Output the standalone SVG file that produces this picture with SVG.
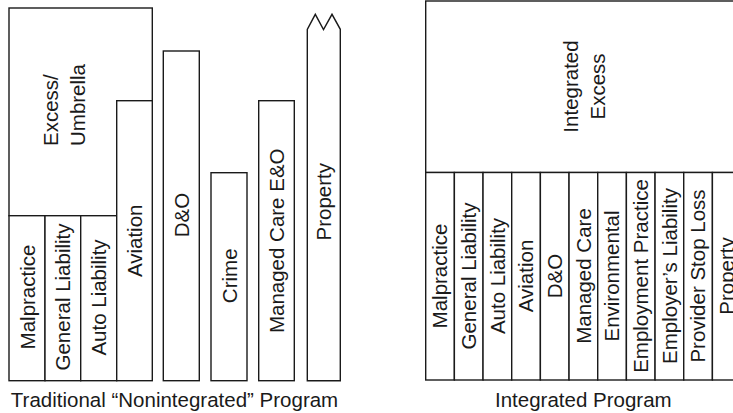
<svg xmlns="http://www.w3.org/2000/svg" width="733" height="413" viewBox="0 0 733 413">
<style>
.b{fill:#fff;stroke:#1a1a1a;stroke-width:1.4}
.t{font-family:"Liberation Sans",Arial,sans-serif;font-size:20.5px;fill:#1a1a1a}
.m{text-anchor:middle}
</style>
<rect width="733" height="413" fill="#fff"/>
<g id="traditional-program">
<g id="excess-umbrella"><rect class="b" x="9" y="8" width="143.3" height="207.7"/>
<text class="t" transform="translate(58.3,146) rotate(-90)">Excess/</text>
<text class="t" transform="translate(85,146) rotate(-90)">Umbrella</text></g>
<g id="malpractice"><rect class="b" x="9" y="215.7" width="36" height="165"/>
<text class="t m" transform="translate(34.5,297) rotate(-90)">Malpractice</text></g>
<g id="general-liability"><rect class="b" x="45" y="215.7" width="35.7" height="165"/>
<text class="t m" transform="translate(70.3,297) rotate(-90)">General Liability</text></g>
<g id="auto-liability"><rect class="b" x="80.7" y="215.7" width="36" height="165"/>
<text class="t m" transform="translate(106.2,297.5) rotate(-90)">Auto Liability</text></g>
<g id="aviation"><rect class="b" x="116.7" y="100.7" width="35.6" height="280"/>
<text class="t m" transform="translate(142,240.8) rotate(-90)">Aviation</text></g>
<g id="d-and-o"><rect class="b" x="163.3" y="51" width="36" height="329.7"/>
<text class="t m" transform="translate(188.8,215) rotate(-90)">D&amp;O</text></g>
<g id="crime"><rect class="b" x="211" y="172.7" width="36" height="208"/>
<text class="t m" transform="translate(236.5,275.8) rotate(-90)">Crime</text></g>
<g id="managed-care-eo"><rect class="b" x="258.7" y="100.7" width="35.6" height="280"/>
<text class="t m" transform="translate(284,240.8) rotate(-90)">Managed Care E&amp;O</text></g>
<g id="property"><path class="b" d="M307.3,380.7 V29.3 L315.3,14.3 L323.5,29.5 L332,14.3 L340.3,29.3 V380.7 Z"/>
<text class="t m" transform="translate(331.3,201.7) rotate(-90)">Property</text></g>
<text class="t m" x="174.5" y="406.5">Traditional “Nonintegrated” Program</text>
</g>
<g id="integrated-program">
<g id="integrated-excess"><rect class="b" x="425.7" y="1" width="315.4" height="171.5"/>
<text class="t m" transform="translate(578.3,86.5) rotate(-90)">Integrated</text>
<text class="t m" transform="translate(605,86.5) rotate(-90)">Excess</text></g>
<g id="i-malpractice"><rect class="b" x="425.7" y="172.5" width="28.67" height="207.5"/>
<text class="t m" transform="translate(447.3,276) rotate(-90)">Malpractice</text></g>
<g id="i-general-liability"><rect class="b" x="454.37" y="172.5" width="28.67" height="207.5"/>
<text class="t m" transform="translate(476,276) rotate(-90)">General Liability</text></g>
<g id="i-auto-liability"><rect class="b" x="483.04" y="172.5" width="28.67" height="207.5"/>
<text class="t m" transform="translate(504.7,276) rotate(-90)">Auto Liability</text></g>
<g id="i-aviation"><rect class="b" x="511.71" y="172.5" width="28.67" height="207.5"/>
<text class="t m" transform="translate(533.3,276) rotate(-90)">Aviation</text></g>
<g id="i-d-and-o"><rect class="b" x="540.38" y="172.5" width="28.67" height="207.5"/>
<text class="t m" transform="translate(562,276) rotate(-90)">D&amp;O</text></g>
<g id="i-managed-care"><rect class="b" x="569.05" y="172.5" width="28.67" height="207.5"/>
<text class="t m" transform="translate(590.7,276) rotate(-90)">Managed Care</text></g>
<g id="i-environmental"><rect class="b" x="597.72" y="172.5" width="28.67" height="207.5"/>
<text class="t m" transform="translate(619.4,276) rotate(-90)">Environmental</text></g>
<g id="i-employment-practice"><rect class="b" x="626.39" y="172.5" width="28.67" height="207.5"/>
<text class="t m" transform="translate(648,276) rotate(-90)">Employment Practice</text></g>
<g id="i-employers-liability"><rect class="b" x="655.06" y="172.5" width="28.67" height="207.5"/>
<text class="t m" transform="translate(676.7,276) rotate(-90)">Employer’s Liability</text></g>
<g id="i-provider-stop-loss"><rect class="b" x="683.73" y="172.5" width="28.67" height="207.5"/>
<text class="t m" transform="translate(705.4,276) rotate(-90)">Provider Stop Loss</text></g>
<g id="i-property"><rect class="b" x="712.4" y="172.5" width="28.67" height="207.5"/>
<text class="t m" transform="translate(734,276) rotate(-90)">Property</text></g>
<text class="t m" x="583.3" y="406.5">Integrated Program</text>
</g>
<g id="connectors"/>
</svg>
